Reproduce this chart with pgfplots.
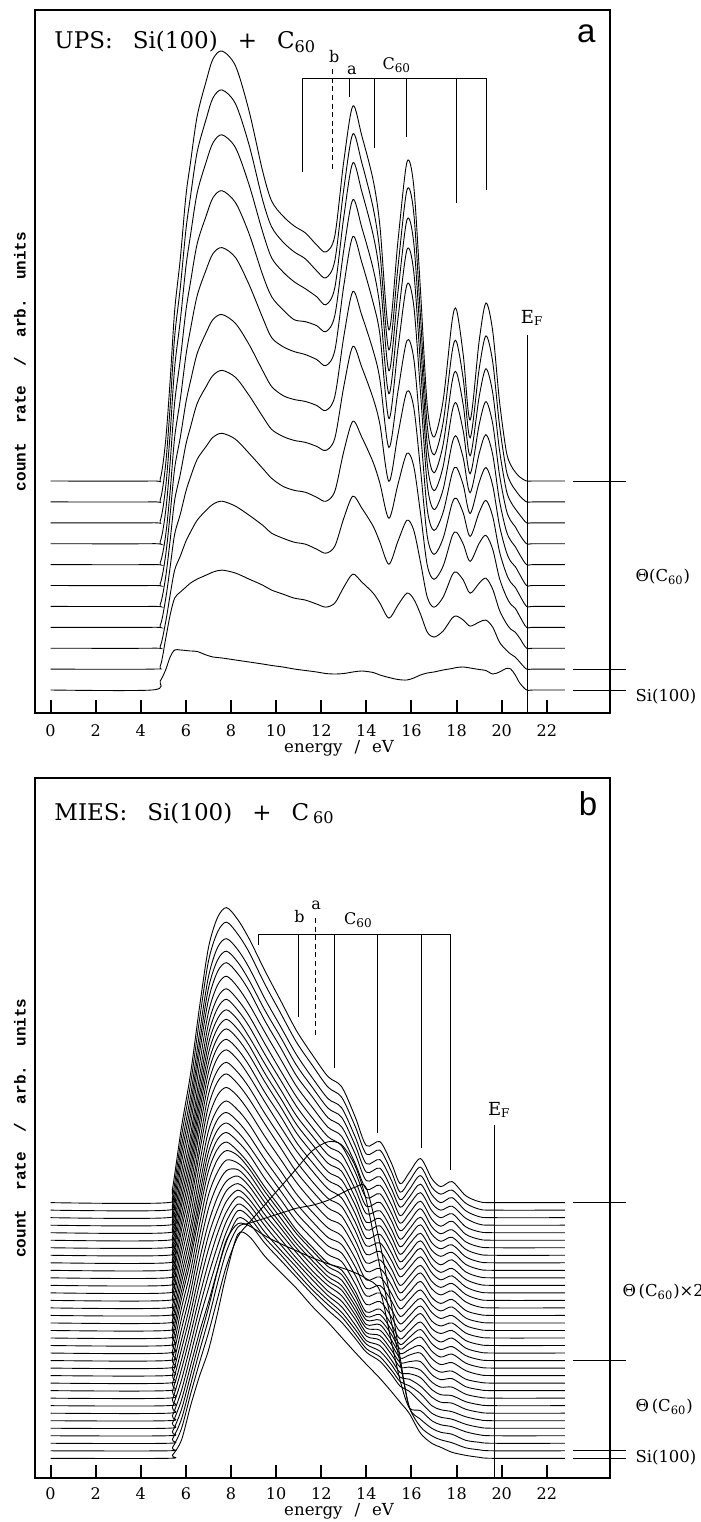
\documentclass[border=0pt]{standalone}
\usepackage{pgfplots}
\usepackage{pgfplotstable}
\pgfplotsset{compat=1.18}
\usepackage{fontspec}
\setmainfont{DejaVu Serif}
\newfontfamily\labsans{Liberation Sans}
\newfontfamily\labmono{Liberation Mono}

% UPS spectra, one row per spectrum (height above its own baseline)
\pgfplotstableread{
name p1 p2 p3 p4 p5 p6 p7 p8 p9 p10 p11 p12 p13 p14 p15 p16 p17 p18 p19 p20 p21 p22 p23 p24 p25 p26 p27 p28 p29 p30 p31 p32 p33 p34 p35 p36 p37 p38 p39 p40 p41 p42 p43 p44 p45 p46 p47 p48 p49 p50 p51
x 0 4.5 4.86 5.1 5.3 5.5 5.75 6.0 6.2 6.5 6.9 7.2 7.6 8.2 8.8 9.4 9.8 10.3 10.8 11.3 11.8 12.2 12.6 13.0 13.4 13.8 14.3 14.6 15.0 15.4 15.8 16.1 16.4 16.7 17.0 17.4 17.8 18.0 18.3 18.6 19.0 19.3 19.6 19.9 20.2 20.4 20.6 20.8 21.1 21.4 22.8
c0 0 0 9 20 33 40 40 39.5 39 38.5 35 33 32 30 28 26 24.5 23 21 19.5 18 16.5 16 16.5 18 19 17.5 15 12.5 10.5 10 12 15 17 18 20 21.5 22.5 23 22 20.5 19.5 16 18 21.5 21 15 7 0 0 0
c1 0 0 3 30 54 71 77 82 86 90 94 97 99 96 90 84 79 75 71 69 65 62 66 82 95 87 76 66 51 64 76 70 55 37 32 38 51 53 49 43 47 49 42 27 19 15 12 7 0 0 0
c2 0 0 2 26 53 78 92 107 116 128 138 144 147 142 133 123 115 110 106 104 99 95 102 130 152 140 122 106 84 107 128 118 86 51 41 51 73 76 68 55 65 70 59 38 25 19 16 10 0 0 0
c3 0 0 2 28 60 93 113 136 150 168 181 190 194 188 174 159 149 141 137 135 130 126 136 176 206 190 165 144 109 143 174 161 114 62 48 61 91 95 83 66 84 92 78 49 31 23 19 11 0 0 0
c4 0 0 2 29 66 106 132 162 179 203 220 231 236 229 211 190 177 170 166 164 160 156 168 220 260 239 208 182 125 172 215 199 137 70 52 68 103 108 93 70 94 106 90 55 33 24 19 11 0 0 0
c5 0 0 2 30 71 117 148 183 204 232 253 266 271 262 241 215 199 190 186 184 180 175 189 249 294 270 235 206 138 194 245 227 154 76 55 73 112 118 100 72 103 118 100 60 34 24 19 11 0 0 0
c6 0 0 2 29 73 127 165 209 235 269 295 311 317 307 280 247 227 218 213 210 205 199 214 279 328 302 262 230 146 216 280 259 172 80 55 75 121 128 106 72 111 130 110 64 34 24 18 10 0 0 0
c7 0 0 2 32 81 141 184 233 261 300 328 346 353 341 310 269 247 234 224 222 218 212 228 294 344 316 275 237 150 225 294 272 178 80 53 77 132 140 112 70 119 142 120 69 34 23 17 9 0 0 0
c8 0 0 2 35 89 155 202 256 287 330 361 380 388 375 338 291 265 251 241 234 226 218 235 306 360 331 288 247 152 231 303 280 182 78 50 78 141 150 117 67 126 154 130 73 33 21 14 8 0 0 0
c9 0 0 2 37 95 165 214 272 305 350 383 404 412 398 357 302 275 260 250 243 231 224 241 313 368 339 294 250 152 235 312 289 185 76 47 79 150 160 122 64 133 166 140 77 32 19 12 6 0 0 0
c10 0 0 2 40 100 170 222 285 318 365 400 422 430 415 370 310 280 265 255 248 236 229 245 320 375 345 301 255 151 240 319 295 190 75 44 80 160 171 125 61 140 178 150 80 30 16 9 4 0 0 0
}\rawA
\pgfplotstabletranspose[colnames from=name]\tabA{\rawA}

% MIES spectra
\pgfplotstableread{
name p1 p2 p3 p4 p5 p6 p7 p8 p9 p10 p11 p12 p13 p14 p15 p16 p17 p18 p19 p20 p21 p22 p23 p24 p25 p26 p27 p28 p29 p30 p31
x 0 5.2 5.4 5.8 6.2 6.6 7.0 7.4 7.8 8.3 8.8 9.5 10.2 10.9 11.6 12.3 12.9 13.5 14.0 14.6 15.1 15.5 15.9 16.4 16.9 17.3 17.8 18.4 19.0 19.6 22.8
c0 0 0 3 18 52 82 108 145 185 224 222 202 186 170 152 136 121 106 94 80 67 56 45 25 15 11 6 3 1 0 0
c1 0 0 3 22 56 88 118 152 185 214 228 246 264 282 300 309 306 285 250 184 130 87 44 24 15 11 8 3 1 0 0
c2 0 0 4 24 58 92 124 160 192 216 220 225 230 235 238 243 250 256 255 200 140 85 36 24 15 11 9 3 1 0 0
c3 0 0 4 26 60 95 128 165 196 212 210 200 192 185 178 172 168 163 157 145 95 55 28 25 15 11 9 4 1 0 0
c4 0 0 5 28 62 96 126 158 187 210 205 185 168 151 134 118 106 90 76 67 54 42 37 26 15 11 9 4 1 0 0
c5 0 0 5 30 65 101 132 162 189 210 204 183 166 148 131 116 104 87 72 64 51 39 35 27 15 11 9 4 1 0 0
c6 0 0 6 33 68 105 138 167 192 209 202 181 163 146 128 113 101 84 69 62 49 36 34 27 16 11 10 4 1 0 0
c7 0 0 6 36 71 109 143 172 194 209 201 180 161 143 126 110 99 81 65 60 46 33 32 28 16 11 10 4 1 0 0
c8 0 0 7 38 74 114 149 176 197 208 199 178 159 140 123 107 97 79 62 58 44 31 31 28 16 11 11 4 1 0 0
c9 0 0 7 41 77 118 155 181 200 207 198 176 157 138 120 105 95 76 58 55 41 28 29 29 16 11 12 4 1 0 0
c10 0 0 8 43 80 123 160 186 202 207 197 175 155 135 118 102 93 73 55 53 39 25 28 30 16 11 12 4 1 0 0
c11 0 0 8 46 83 128 167 191 205 206 195 173 152 132 115 99 90 70 51 51 36 22 26 30 17 11 13 5 1 0 0
c12 0 0 9 49 86 132 173 196 208 205 194 171 150 129 112 96 88 67 48 48 34 19 25 31 17 11 14 5 1 0 0
c13 0 0 9 52 89 136 178 201 210 205 192 169 148 127 110 94 86 65 44 46 31 16 23 31 17 11 14 5 1 0 0
c14 0 0 10 54 92 140 182 204 211 202 189 166 145 123 106 90 83 62 41 44 29 14 22 31 17 11 15 5 1 0 0
c15 0 0 10 54 92 141 184 206 213 204 191 167 146 124 107 91 84 62 41 44 29 14 22 32 17 12 15 5 1 0 0
c16 0 0 10 55 93 142 186 208 215 206 192 169 147 125 108 92 85 63 42 45 29 14 22 32 17 12 15 5 1 0 0
c17 0 0 10 55 95 144 188 211 218 209 195 171 149 127 109 93 86 64 42 45 30 14 22 32 18 12 15 5 1 0 0
c18 0 0 10 56 96 147 192 214 222 213 199 174 152 129 111 95 87 65 43 46 30 14 23 33 18 12 16 5 1 0 0
c19 0 0 10 58 99 151 197 220 228 219 204 179 156 133 114 97 90 67 44 47 31 15 23 34 18 12 16 5 1 0 0
c20 0 0 11 59 102 155 202 226 234 224 209 184 160 136 117 100 92 68 45 48 32 15 24 35 19 13 17 6 1 0 0
c21 0 0 11 60 103 157 206 230 238 228 213 187 163 139 119 102 94 70 46 49 32 15 24 35 19 13 17 6 1 0 0
c22 0 0 11 62 105 161 210 235 243 233 217 191 166 142 122 104 95 71 47 50 33 16 25 36 20 13 17 6 1 0 0
c23 0 0 11 62 107 163 213 238 246 236 220 193 169 143 123 105 97 72 47 51 33 16 25 37 20 13 17 6 1 0 0
c24 0 0 11 63 108 165 215 240 249 239 223 196 171 145 125 106 98 73 48 52 34 16 25 37 20 13 18 6 1 0 0
c25 0 0 11 64 109 166 217 242 251 241 225 197 172 146 126 107 99 73 48 52 34 16 26 37 20 14 18 6 1 0 0
c26 0 0 11 64 110 167 219 244 253 243 226 199 173 147 127 108 99 74 49 52 34 16 26 38 20 14 18 6 1 0 0
c27 0 0 11 65 111 169 221 247 256 245 229 201 175 149 128 109 101 75 49 53 35 16 26 38 21 14 18 6 1 0 0
c28 0 0 11 66 112 171 224 250 259 248 232 204 177 151 130 111 102 76 50 54 35 17 26 39 21 14 18 6 1 0 0
c29 0 0 12 67 115 175 228 255 264 253 236 208 181 154 133 113 104 77 51 55 36 17 27 39 21 14 19 6 1 0 0
c30 0 0 12 69 117 179 233 261 270 259 242 212 185 157 136 115 106 79 52 56 37 17 28 40 22 15 19 6 1 0 0
c31 0 0 12 70 119 181 237 265 274 263 245 215 188 160 138 117 108 80 53 57 37 18 28 41 22 15 19 7 1 0 0
c32 0 0 12 71 121 184 241 270 279 268 250 219 191 163 140 119 110 81 54 58 38 18 28 42 23 15 20 7 1 0 0
c33 0 0 12 73 125 190 249 278 288 276 258 226 197 168 145 123 113 84 56 60 39 18 29 43 23 16 20 7 1 0 0
c34 0 0 13 75 128 195 255 285 295 283 264 232 202 172 148 126 116 86 57 61 40 19 30 44 24 16 21 7 1 0 0
}\rawB
\pgfplotstabletranspose[colnames from=name]\tabB{\rawB}

\pgfplotsset{
  panel/.style={
    scale only axis, width=287.5pt,
    xmin=-0.69, xmax=24.8, ymin=0,
    clip=false,
    xtick={0,2,...,22}, ytick=\empty,
    xtick pos=lower, xticklabel pos=lower, tick align=inside,
    major tick length=6.5pt,
    major tick style={line width=1pt, black},
    axis line style={line width=1pt},
    /pgf/number format/assume math mode=true,
    xticklabel style={font=\fontsize{8}{9}\selectfont, yshift=-2.5pt},
  },
  spec/.style={black, line width=0.45pt, smooth, tension=0.5, mark=none},
}
\tikzset{
  small/.style={font=\fontsize{8}{9}\selectfont},
  side/.style={anchor=west, inner xsep=0pt, font=\fontsize{8.2}{10}\selectfont},
  ylab/.style={rotate=90, font=\labmono\bfseries\fontsize{8}{9}\selectfont},
  ttl/.style={anchor=base west, inner sep=0pt, font=\fontsize{11.5}{13}\selectfont},
  mk/.style={line width=0.5pt},
}

\begin{document}
\begin{tikzpicture}
\useasboundingbox (-17.5pt,356.5pt) rectangle (333pt,-404.5pt);

% ---- panel a: UPS ----
\begin{axis}[panel, height=351.5pt, ymax=703, at={(0pt,0pt)}, anchor=south west]
\pgfplotsinvokeforeach{0,...,10}{
  \addplot[spec] table[x=x, y expr=\thisrow{c#1}+23+20.9*#1] {\tabA};
}
\draw[mk] (21.16,0) -- (21.16,378);
\node[font=\fontsize{9}{10}\selectfont] at (21.35,395) {E\textsubscript{F}};
\draw[mk] (11.17,541.3) -- (11.17,634.7) -- (19.34,634.7) -- (19.34,523);
\draw[mk] (13.25,634.7) -- (13.25,616);
\draw[mk] (14.36,634.7) -- (14.36,564.7);
\draw[mk] (15.79,634.7) -- (15.79,576.3);
\draw[mk] (18.01,634.7) -- (18.01,509.7);
\draw[mk, dash pattern=on 2.5pt off 1.8pt] (12.5,643.7) -- (12.5,543);
\node[small] at (12.58,656.3) {b};
\node[small] at (13.36,643) {a};
\node[small] at (15.35,648) {C\textsubscript{60}};
\node[ttl] at (0.155,664)
  {UPS:\hspace{10pt}Si(100)\hspace{10pt}+\hspace{10pt}C\textsubscript{60}};
\node[font=\labsans\fontsize{16.5}{17}\selectfont] at (23.75,679) {a};
\draw[mk] (23.15,232) -- (25.5,232);
\draw[mk] (23.15,43.9) -- (25.5,43.9);
\draw[mk] (23.15,23) -- (25.5,23);
\node[side] at (25.92,136) {Θ(C\textsubscript{60})};
\node[side] at (25.92,16) {Si(100)};
\node[font=\fontsize{8.3}{10}\selectfont] at (12.79,-35) {energy\hspace{6pt}/\hspace{6pt}eV};
\node[ylab] at (-1.355,351.5) {count\ \ rate\ \ /\ \ arb.\ \ units};
\end{axis}

% ---- panel b: MIES ----
\begin{axis}[panel, height=350pt, ymax=700, at={(0pt,-382.5pt)}, anchor=south west,
  xticklabel style={yshift=1pt}]
\pgfplotsinvokeforeach{0,...,34}{
  \addplot[spec] table[x=x, y expr=\thisrow{c#1}+19.7+7.52*#1] {\tabB};
}
\draw[mk] (19.67,0) -- (19.67,353);
\node[font=\fontsize{9}{10}\selectfont] at (19.89,368) {E\textsubscript{F}};
\draw[mk] (9.22,533) -- (9.22,544) -- (17.75,544) -- (17.75,308);
\draw[mk] (11.0,544) -- (11.0,461.3);
\draw[mk] (12.57,544) -- (12.57,410);
\draw[mk] (14.49,544) -- (14.49,344.7);
\draw[mk] (16.43,544) -- (16.43,329.7);
\draw[mk, dash pattern=on 2.5pt off 1.8pt] (11.74,560) -- (11.74,443);
\node[small] at (11.03,561.3) {b};
\node[small] at (11.77,573) {a};
\node[small] at (13.65,558) {C\textsubscript{60}};
\node[ttl] at (0.155,658)
  {MIES:\hspace{10pt}Si(100)\hspace{10pt}+\hspace{10pt}C\hspace{2pt}\textsubscript{60}};
\node[font=\labsans\fontsize{16.5}{17}\selectfont] at (23.83,674) {b};
\draw[mk] (23.15,275.4) -- (25.5,275.4);
\draw[mk] (23.15,117.5) -- (25.5,117.5);
\draw[mk] (23.15,27.2) -- (25.5,27.2);
\draw[mk] (23.15,19.7) -- (25.5,19.7);
\node[side] at (25.34,186) {Θ\,(C\textsubscript{60})×2};
\node[side] at (25.92,71) {Θ\,(C\textsubscript{60})};
\node[side] at (25.92,20) {Si(100)};
\node[font=\fontsize{8.3}{10}\selectfont] at (12.79,-33) {energy\hspace{6pt}/\hspace{6pt}eV};
\node[ylab] at (-1.355,350) {count\ \ rate\ \ /\ \ arb.\ \ units};
\end{axis}
\end{tikzpicture}
\end{document}
